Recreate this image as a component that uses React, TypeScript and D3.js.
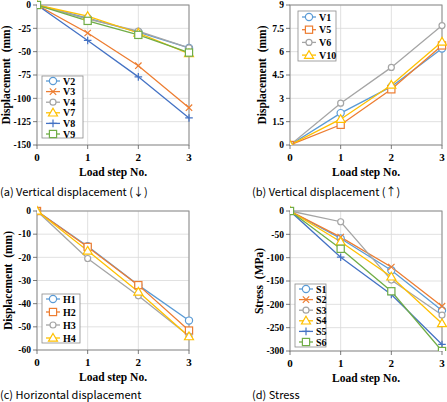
import React from "react";
import * as d3 from "d3";

const steps = [0, 1, 2, 3];

// (a) vertical displacement (down)
const vDownNames = ["V2", "V3", "V4", "V7", "V8", "V9"];
const vDownValues = [
  [0, -14, -29, -46],
  [0, -30, -65, -110],
  [0, -15, -28, -46],
  [0, -12, -30, -52],
  [0, -38, -77, -121],
  [0, -17, -32, -51],
];
const vDownTicks = [0, -25, -50, -75, -100, -125, -150];

// (b) vertical displacement (up)
const vUpNames = ["V1", "V5", "V6", "V10"];
const vUpValues = [
  [0, 2.05, 3.75, 6.2],
  [0, 1.3, 3.58, 6.4],
  [0, 2.69, 4.99, 7.68],
  [0, 1.66, 3.86, 6.63],
];
const vUpTicks = [0, 1.5, 3, 4.5, 6, 7.5, 9];

// (c) horizontal displacement
const hNames = ["H1", "H2", "H3", "H4"];
const hValues = [
  [0, -15.2, -32, -47.3],
  [0, -15.5, -32, -51.6],
  [0, -20.5, -36.6, -54],
  [0, -17.2, -34.9, -54.2],
];
const hTicks = [0, -10, -20, -30, -40, -50, -60];

// (d) stress
const sNames = ["S1", "S2", "S3", "S4", "S5", "S6"];
const sValues = [
  [0, -59, -127, -213],
  [0, -56, -120, -204],
  [0, -23, -148, -223],
  [0, -66, -141, -241],
  [0, -99, -179, -286],
  [0, -81, -172, -300],
];
const sTicks = [0, -50, -100, -150, -200, -250, -300];

const C = {
  lblue: "#5B9BD5",
  orange: "#ED7D31",
  gray: "#A5A5A5",
  yellow: "#FFC000",
  dblue: "#4472C4",
  green: "#70AD47",
};

type Mk = "circle" | "x" | "smallcircle" | "triangle" | "plus" | "square";

const styleA: [string, Mk][] = [
  [C.lblue, "circle"], [C.orange, "x"], [C.gray, "smallcircle"],
  [C.yellow, "triangle"], [C.dblue, "plus"], [C.green, "square"],
];
const styleB: [string, Mk][] = [
  [C.lblue, "circle"], [C.orange, "square"], [C.gray, "smallcircle"], [C.yellow, "triangle"],
];

function Marker({ x, y, kind, color }: { x: number; y: number; kind: Mk; color: string }) {
  const sw = 1.2;
  switch (kind) {
    case "circle":
      return <circle cx={x} cy={y} r={3.6} fill="#fff" stroke={color} strokeWidth={sw} />;
    case "smallcircle":
      return <circle cx={x} cy={y} r={3} fill="#fff" stroke={color} strokeWidth={sw} />;
    case "square":
      return <rect x={x - 3.6} y={y - 3.6} width={7.2} height={7.2} fill="#fff" stroke={color} strokeWidth={sw} />;
    case "triangle":
      return (
        <path d={`M${x},${y - 4.5}L${x + 4.5},${y + 3.2}L${x - 4.5},${y + 3.2}Z`} fill="#fff" stroke={color} strokeWidth={sw} />
      );
    case "x":
      return <path d={`M${x - 3.2},${y - 3.2}L${x + 3.2},${y + 3.2}M${x - 3.2},${y + 3.2}L${x + 3.2},${y - 3.2}`} stroke={color} strokeWidth={sw} />;
    case "plus":
      return <path d={`M${x - 3.8},${y}L${x + 3.8},${y}M${x},${y - 3.8}L${x},${y + 3.8}`} stroke={color} strokeWidth={sw} />;
  }
}

type PanelProps = {
  x0: number; x1: number; yTop: number; yBot: number;
  ticks: number[]; names: string[]; values: number[][]; styles: [string, Mk][];
  yLabel: string; yLabelX: number;
  legend: { x: number; y: number; w: number; h: number; first: number; step: number };
  caption: string; captionX: number; captionY: number;
};

const serif = "'Liberation Serif', 'Times New Roman', serif";
const sans = "'Noto Sans CJK KR', 'Noto Sans', sans-serif";

function Panel(p: PanelProps) {
  const x = d3.scaleLinear().domain([0, 3]).range([p.x0, p.x1]);
  const ext = d3.extent(p.ticks) as [number, number];
  const y = d3.scaleLinear().domain(ext).range([p.yBot, p.yTop]);
  const line = d3.line<number>().x((_, i) => x(steps[i])).y((d) => y(d));
  const clipId = `clip-${p.x0}-${p.yTop}`;
  const lg = p.legend;
  return (
    <g>
      <defs>
        <clipPath id={clipId}>
          <rect x={p.x0} y={p.yTop - 6} width={p.x1 - p.x0 + 6} height={p.yBot - p.yTop + 6} />
        </clipPath>
      </defs>
      {p.ticks.map((t) => (
        <line key={"gy" + t} x1={p.x0} x2={p.x1} y1={y(t)} y2={y(t)} stroke="#D9D9D9" strokeWidth={0.8} />
      ))}
      {steps.map((s) => (
        <line key={"gx" + s} x1={x(s)} x2={x(s)} y1={p.yTop} y2={p.yBot} stroke="#D9D9D9" strokeWidth={0.8} />
      ))}
      <rect x={p.x0} y={p.yTop} width={p.x1 - p.x0} height={p.yBot - p.yTop} fill="none" stroke="#8C8C8C" strokeWidth={1} />
      {p.ticks.map((t) => (
        <g key={"ty" + t}>
          <line x1={p.x0 - 4} x2={p.x0} y1={y(t)} y2={y(t)} stroke="#595959" strokeWidth={0.8} />
          <text x={p.x0 - 6} y={y(t)} dy="0.35em" textAnchor="end" fontFamily={serif} fontWeight="bold" fontSize={9.5}>
            {String(t)}
          </text>
        </g>
      ))}
      {steps.map((s) => (
        <g key={"tx" + s}>
          <line x1={x(s)} x2={x(s)} y1={p.yBot} y2={p.yBot + 4} stroke="#595959" strokeWidth={0.8} />
          <text x={x(s)} y={p.yBot + 16} textAnchor="middle" fontFamily={serif} fontWeight="bold" fontSize={11}>
            {s}
          </text>
        </g>
      ))}
      <text x={(p.x0 + p.x1) / 2} y={p.yBot + 31} textAnchor="middle" fontFamily={serif} fontWeight="bold" fontSize={11.5}>
        Load step No.
      </text>
      <text
        transform={`translate(${p.yLabelX},${(p.yTop + p.yBot) / 2}) rotate(-90)`}
        textAnchor="middle" dy="0.35em" fontFamily={serif} fontWeight="bold" fontSize={11.5}
        style={{ whiteSpace: "pre" }}
      >
        {p.yLabel}
      </text>
      <g clipPath={`url(#${clipId})`}>
        {p.values.map((v, i) => (
          <path key={"l" + i} d={line(v) ?? ""} fill="none" stroke={p.styles[i][0]} strokeWidth={1.3} />
        ))}
        {p.values.map((v, i) =>
          v.map((d, j) => (
            <Marker key={"m" + i + "-" + j} x={x(steps[j])} y={y(d)} kind={p.styles[i][1]} color={p.styles[i][0]} />
          ))
        )}
      </g>
      <rect x={lg.x} y={lg.y} width={lg.w} height={lg.h} fill="#fff" stroke="#8C8C8C" strokeWidth={0.8} />
      {p.names.map((n, i) => {
        const cy = lg.first + i * lg.step;
        return (
          <g key={"lg" + n}>
            <line x1={lg.x + 4} x2={lg.x + 18} y1={cy} y2={cy} stroke={p.styles[i][0]} strokeWidth={1.3} />
            <Marker x={lg.x + 11} y={cy} kind={p.styles[i][1]} color={p.styles[i][0]} />
            <text x={lg.x + 21} y={cy} dy="0.35em" fontFamily={serif} fontWeight="bold" fontSize={10}>
              {n}
            </text>
          </g>
        );
      })}
      <text x={p.captionX} y={p.captionY} fontFamily={sans} fontSize={11}>
        {p.caption}
      </text>
    </g>
  );
}

export default function App() {
  return (
    <svg width={447} height={402} style={{ position: "absolute", left: 0, top: 0, background: "#fff" }}>
      <Panel
        x0={37} x1={189} yTop={5} yBot={145} ticks={vDownTicks}
        names={vDownNames} values={vDownValues} styles={styleA}
        yLabel="Displacement  (mm)" yLabelX={6}
        legend={{ x: 42, y: 76, w: 41, h: 62, first: 81, step: 10.6 }}
        caption="(a) Vertical displacement (↓)" captionX={0} captionY={196}
      />
      <Panel
        x0={290} x1={442} yTop={5} yBot={145} ticks={vUpTicks}
        names={vUpNames} values={vUpValues} styles={styleB}
        yLabel="Displacement  (mm)" yLabelX={262}
        legend={{ x: 298, y: 11, w: 38, h: 50, first: 17, step: 12.7 }}
        caption="(b) Vertical displacement (↑)" captionX={252} captionY={196}
      />
      <Panel
        x0={37} x1={189} yTop={211} yBot={350} ticks={hTicks}
        names={hNames} values={hValues} styles={styleB}
        yLabel="Displacement  (mm)" yLabelX={8}
        legend={{ x: 42, y: 294, w: 38, h: 49, first: 299, step: 13 }}
        caption="(c) Horizontal displacement" captionX={0} captionY={399}
      />
      <Panel
        x0={290} x1={442} yTop={211} yBot={351} ticks={sTicks}
        names={sNames} values={sValues} styles={styleA}
        yLabel="Stress  (MPa)" yLabelX={259}
        legend={{ x: 295, y: 284, w: 31, h: 63, first: 289, step: 10.6 }}
        caption="(d) Stress" captionX={252} captionY={399}
      />
    </svg>
  );
}
